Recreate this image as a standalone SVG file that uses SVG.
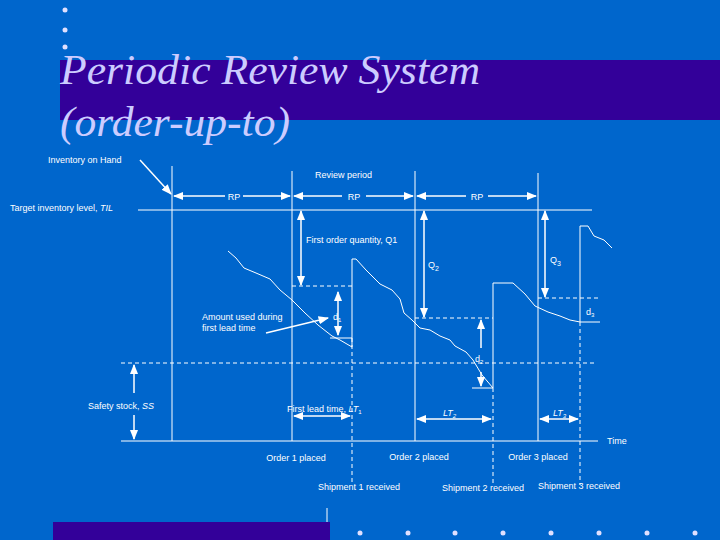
<svg xmlns="http://www.w3.org/2000/svg" width="720" height="540" viewBox="0 0 720 540">
<defs>
<marker id="ah" viewBox="0 0 10 10" refX="9" refY="5" markerWidth="7" markerHeight="7" orient="auto-start-reverse"><path d="M0,1 L10,5 L0,9 z" fill="#fff"/></marker>
<style>
text{font-family:"Liberation Sans",Arial,sans-serif;fill:#fff;font-size:9px}
.s{stroke:#fff;stroke-width:1;fill:none}
.d{stroke:#fff;stroke-width:1;fill:none;stroke-dasharray:4,3}
.a{stroke:#fff;stroke-width:1.5;fill:none;marker-end:url(#ah)}
.aa{stroke:#fff;stroke-width:1.5;fill:none;marker-end:url(#ah);marker-start:url(#ah)}
.b{fill:#e0e0ff}
.m{text-anchor:middle}
.t{font-family:"Liberation Serif",serif;font-style:italic;font-size:42px;fill:#ccccff}
</style>
</defs>
<rect width="720" height="540" fill="#0066cc"/>
<rect x="60" y="60" width="660" height="60" fill="#330099"/>
<g class="b"><circle cx="65" cy="10" r="2.5"/><circle cx="65" cy="30" r="2.5"/><circle cx="65" cy="47" r="2.5"/></g>
<text x="60" y="84" class="t" textLength="420" lengthAdjust="spacingAndGlyphs">Periodic Review System</text>
<text x="60" y="136" class="t" textLength="230" lengthAdjust="spacingAndGlyphs">(order-up-to)</text>
<rect x="53" y="522" width="277" height="18" fill="#330099"/>
<line x1="327" y1="508" x2="327" y2="522" class="s"/>
<g class="b"><circle cx="360" cy="533" r="2.5"/><circle cx="408" cy="533" r="2.5"/><circle cx="455" cy="533" r="2.5"/><circle cx="503" cy="533" r="2.5"/><circle cx="551" cy="533" r="2.5"/><circle cx="599" cy="533" r="2.5"/><circle cx="647" cy="533" r="2.5"/><circle cx="695" cy="533" r="2.5"/></g>
<g id="connectors">
<line x1="172" y1="166" x2="172" y2="441" class="s"/>
<line x1="292" y1="171" x2="292" y2="441" class="s"/>
<line x1="415" y1="171" x2="415" y2="441" class="s"/>
<line x1="538" y1="173" x2="538" y2="441" class="s"/>
<line x1="138" y1="210" x2="592" y2="210" class="s"/>
<line x1="121" y1="441" x2="598" y2="441" class="s"/>
<line x1="121" y1="363" x2="596" y2="363" class="d"/>
<line x1="140" y1="160" x2="171" y2="194" class="a"/>
<line x1="174" y1="196" x2="225" y2="196" class="a" style="marker-end:none;marker-start:url(#ah)"/><line x1="243" y1="196" x2="290" y2="196" class="a"/>
<line x1="294" y1="196" x2="342" y2="196" class="a" style="marker-end:none;marker-start:url(#ah)"/><line x1="366" y1="196" x2="413" y2="196" class="a"/>
<line x1="417" y1="196" x2="466" y2="196" class="a" style="marker-end:none;marker-start:url(#ah)"/><line x1="488" y1="196" x2="536" y2="196" class="a"/>
<line x1="301" y1="211" x2="301" y2="285" class="aa"/>
<line x1="424" y1="211" x2="424" y2="317" class="aa"/>
<line x1="545" y1="211" x2="545" y2="297" class="aa"/>
<line x1="292" y1="286" x2="352" y2="286" class="d"/>
<line x1="415" y1="318" x2="493" y2="318" class="d"/>
<line x1="538" y1="298" x2="600" y2="298" class="d"/>
<line x1="580" y1="322" x2="600" y2="322" class="s"/>
<line x1="330" y1="338" x2="352" y2="338" class="s"/>
<line x1="472" y1="388" x2="493" y2="388" class="s"/>
<path class="s" d="M228,251 L236,258 L244,268 L256,273 L270,279 L280,290 L292,300 L305,313 L318,325 L332,336 L340,340 L352,347 L352,259 L356,259 L366,270 L380,284 L392,290 L400,299 L404,313 L412,320 L420,328 L430,330 L440,336 L450,340 L455,346 L466,352 L473,360 L482,375 L493,388 L493,283 L513,283 L525,294 L535,306 L548,312 L560,316 L570,320 L580,322 L580,226 L588,226 L594,236 L604,240 L612,248"/>
<line x1="338" y1="292" x2="338" y2="335" class="aa"/>
<line x1="481" y1="348" x2="481" y2="320" class="a"/>
<line x1="481" y1="372" x2="481" y2="386" class="a"/>
<line x1="266" y1="333" x2="328" y2="318" class="a"/>
<line x1="134" y1="393" x2="134" y2="365" class="a"/>
<line x1="134" y1="415" x2="134" y2="439" class="a"/>
<line x1="294" y1="416" x2="350" y2="416" class="aa"/>
<line x1="417" y1="419" x2="491" y2="419" class="aa"/>
<line x1="540" y1="419" x2="578" y2="419" class="aa"/>
<line x1="352" y1="338" x2="352" y2="485" class="d"/>
<line x1="493" y1="388" x2="493" y2="485" class="d"/>
<line x1="580" y1="322" x2="580" y2="485" class="d"/>
</g>
<g id="labels">
<text x="48" y="163">Inventory on Hand</text>
<text x="315" y="178">Review period</text>
<text x="10" y="211">Target inventory level, <tspan font-style="italic">TIL</tspan></text>
<text x="234" y="200" class="m" font-size="12">RP</text>
<text x="354" y="200" class="m" font-size="12">RP</text>
<text x="477" y="200" class="m" font-size="12">RP</text>
<text x="306" y="243">First order quantity, Q1</text>
<text x="428" y="268" font-size="11">Q<tspan font-size="7" dy="3">2</tspan></text>
<text x="550" y="263" font-size="11">Q<tspan font-size="7" dy="3">3</tspan></text>
<text x="333" y="320">d<tspan font-size="6" dy="2">1</tspan></text>
<text x="475" y="362">d<tspan font-size="6" dy="2">2</tspan></text>
<text x="586" y="315">d<tspan font-size="6" dy="2">3</tspan></text>
<text x="202" y="320">Amount used during</text>
<text x="202" y="331">first lead time</text>
<text x="88" y="409">Safety stock, <tspan font-style="italic">SS</tspan></text>
<text x="287" y="412">First lead time, <tspan font-style="italic">LT</tspan><tspan font-size="6" dy="2">1</tspan></text>
<text x="443" y="416" font-style="italic">LT<tspan font-size="6" dy="2">2</tspan></text>
<text x="553" y="416" font-style="italic">LT<tspan font-size="6" dy="2">3</tspan></text>
<text x="607" y="444">Time</text>
<text x="296" y="461" class="m">Order  1 placed</text>
<text x="419" y="460" class="m">Order  2  placed</text>
<text x="538" y="460" class="m">Order  3  placed</text>
<text x="359" y="490" class="m">Shipment 1 received</text>
<text x="483" y="491" class="m">Shipment 2 received</text>
<text x="579" y="489" class="m">Shipment 3 received</text>
</g>
</svg>
